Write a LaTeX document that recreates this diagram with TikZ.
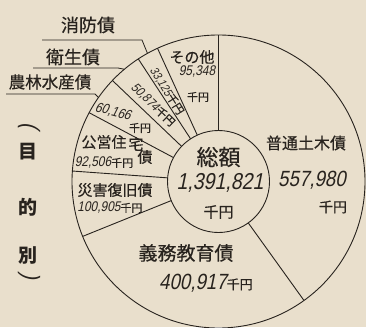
\documentclass[tikz,border=0pt]{standalone}
\usepackage{fontspec}
\setmainfont{Liberation Sans}
\newfontfamily\jpfont{Noto Sans CJK JP}[FakeBold=0.5]
\newfontfamily\jpboldfont{Noto Sans CJK JP}
\newfontfamily\numfont{Liberation Sans}[FakeStretch=0.85, FakeSlant=0.2]
\usetikzlibrary{calc}
\definecolor{paper}{RGB}{233,223,204}
\definecolor{ink}{RGB}{40,35,30}
\newcommand{\senyen}{{\jpfont\fontsize{11}{11}\selectfont 千円}}
\tikzset
{
    pielabel/.style    = {font=\jpfont\fontsize{18}{18}\selectfont, text=ink, inner sep=0pt},
    smalllabel/.style  = {font=\jpfont\fontsize{15}{15}\selectfont, text=ink, inner sep=0pt},
    amountlabel/.style = {font=\numfont\fontsize{22}{22}\selectfont, text=ink, inner sep=0pt},
    smallamount/.style = {font=\numfont\fontsize{14}{14}\selectfont, text=ink, inner sep=0pt},
    unitlabel/.style   = {font=\jpfont\fontsize{11}{11}\selectfont, text=ink, inner sep=0pt},
    sidelabel/.style   = {font=\jpboldfont\bfseries\fontsize{19}{19}\selectfont, text=ink, inner sep=0pt},
    leader/.style      = {draw=ink, line width=0.8pt}
}
\begin{document}
\begin{tikzpicture}[x=1pt, y=1pt, line width=0.9pt]
    \fill[paper] (0,0) rectangle (366,327);
    \useasboundingbox (0,0) rectangle (366,327);
    \coordinate (c) at (218.5,145.5);
    \draw[ink] (c) circle (146.5);
    \draw[ink] (c) circle (51);
    \foreach \a in {90,-54.3,-158.0,175.9,152.0,136.4,123.2,114.6}
        \draw[ink] ($(c)+(\a:51)$) -- ($(c)+(\a:146.5)$);

    \node [pielabel, font=\jpfont\fontsize{22}{22}\selectfont] (total) at (218.5,170) {総額};
    \node [amountlabel, font=\numfont\fontsize{23}{23}\selectfont] (totalnum) at (220,144) {1,391,821};
    \node [unitlabel, font=\jpfont\fontsize{15}{15}\selectfont] (totalunit) at (218.5,115) {千円};

    \node [pielabel, font=\jpfont\fontsize{16}{16}\selectfont] (futsu) at (306,184) {普通土木債};
    \node [amountlabel] (futsunum) at (312,147) {557,980};
    \node [unitlabel, font=\jpfont\fontsize{14}{14}\selectfont] (futsuunit) at (333,120) {千円};

    \node [pielabel, font=\jpfont\fontsize{19}{19}\selectfont] (gimu) at (186,74) {義務教育債};
    \node [amountlabel] (gimunum) at (206,44) {400,917{\jpfont\fontsize{13}{13}\selectfont 千円}};

    \node [smalllabel] (saigai) at (115,137) {災害復旧債};
    \node [smallamount] (saigainum) at (110,119) {100,905\senyen};

    \node [smalllabel] (koei) at (104,185) {公営住};
    \node [smalllabel] (koeitaku) at (136,183) {宅};
    \node [smalllabel] (koeisai) at (145,170) {債};
    \node [smallamount] (koeinum) at (104,164) {92,506\senyen};

    \node [smallamount, rotate=-15] (norinnum) at (113,215) {60,166};
    \node [unitlabel] (norinunit) at (140,199) {千円};
    \node [smallamount, font=\numfont\fontsize{13}{13}\selectfont, rotate=-44] (eiseinum) at (153,222) {50,874\senyen};
    \node [smallamount, font=\numfont\fontsize{12}{12}\selectfont, rotate=-58] (shobonum) at (167,236) {33,125\senyen};

    \node [smalllabel] (sonota) at (192,270) {その他};
    \node [smallamount] (sonotanum) at (197,255) {95,348};
    \node [unitlabel] (sonotaunit) at (198,230) {千円};

    \node [pielabel] (shobo) at (88,302) {消防債};
    \coordinate (shoboL) at (42,287);
    \coordinate (shoboR) at (142,287);
    \draw[leader] (shoboL) -- (shoboR) -- ($(c)+(119:146.5)$);
    \node [pielabel] (eisei) at (73,270) {衛生債};
    \coordinate (eiseiL) at (33,259);
    \coordinate (eiseiR) at (118,259);
    \draw[leader] (eiseiL) -- (eiseiR) -- ($(c)+(130:146.5)$);
    \node [pielabel, font=\jpfont\fontsize{16.5}{16.5}\selectfont] (norin) at (50,245) {農林水産債};
    \coordinate (norinL) at (6,233);
    \coordinate (norinR) at (95,233);
    \draw[leader] (norinL) -- (norinR) -- ($(c)+(145:146.5)$);

    \node [pielabel, font=\numfont\fontsize{24}{24}\selectfont, rotate=-90] (parenL) at (29,201) {(};
    \node [sidelabel] (moku) at (28,175) {目};
    \node [sidelabel] (teki) at (28,120) {的};
    \node [sidelabel] (betsu) at (28,72) {別};
    \node [pielabel, font=\numfont\fontsize{24}{24}\selectfont, rotate=-90] (parenR) at (29,51) {)};
\end{tikzpicture}
\end{document}
